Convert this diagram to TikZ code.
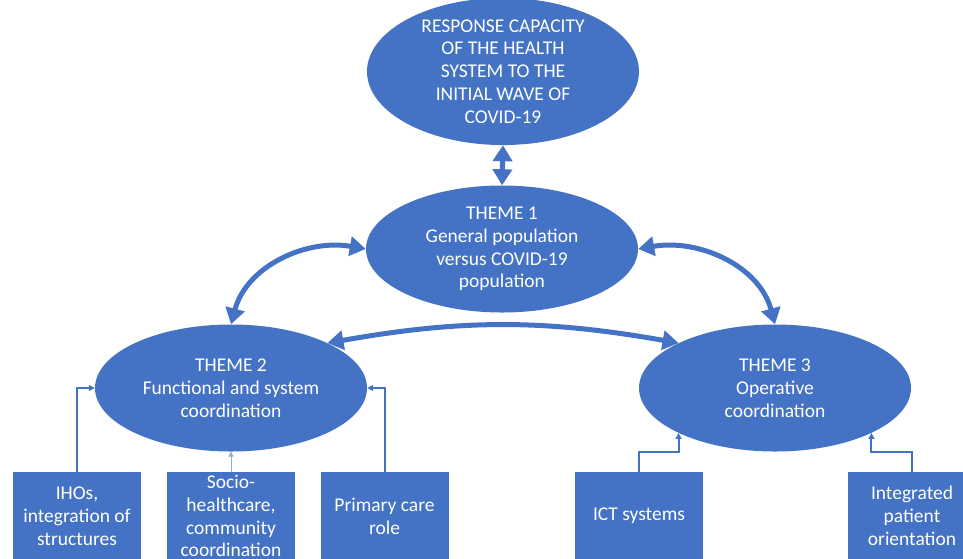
\documentclass[tikz,border=0pt]{standalone}
\usepackage{fontspec}
\setmainfont{Carlito}
\usetikzlibrary{shapes.geometric,arrows.meta}
\definecolor{ofblue}{HTML}{4472C4}
\definecolor{lightln}{HTML}{8FAADC}
\begin{document}
\begin{tikzpicture}[x=1pt,y=1pt,
 oval/.style={ellipse, fill=ofblue, minimum width=272pt, minimum height=127pt, inner sep=0pt, text=white, align=center, font=\fontsize{19.5}{22.8}\selectfont},
 card/.style={rectangle, fill=ofblue, minimum width=128pt, minimum height=88pt, inner sep=0pt, text=white, align=center, font=\fontsize{19.5}{22.8}\selectfont},
 bigarrow/.style={draw=ofblue, line width=5pt, {Triangle[length=16pt,width=19pt]}-{Triangle[length=16pt,width=19pt]}},
 conn/.style={draw=ofblue, line width=2pt, -{Triangle[length=6pt,width=6pt]}},
 thinconn/.style={draw=lightln, line width=1pt, -{Triangle[length=5pt,width=5pt]}}]
\useasboundingbox (0,0) rectangle (963,-558);
\fill[white] (0,0) rectangle (963,-558);
\clip (0,0) rectangle (963,-558);

\node[oval] (top) at (503,-71.5) {RESPONSE CAPACITY\\OF THE HEALTH\\SYSTEM TO THE\\INITIAL WAVE OF\\COVID-19};
\node[oval] (t1) at (502,-249) {THEME 1\\General population\\versus COVID-19\\population};
\node[oval] (t2) at (231,-388) {THEME 2\\Functional and system\\coordination};
\node[oval] (t3) at (775,-388) {THEME 3\\Operative\\coordination};

\node[card] (b1) at (77,-516) {IHOs,\\integration of\\structures};
\node[card] (b2) at (231,-516) {Socio-\\healthcare,\\community\\coordination};
\node[card] (b3) at (384.5,-516) {Primary care\\role};
\node[card] (b4) at (639,-516) {ICT systems};
\node[card] (b5) at (912,-516) {Integrated\\patient\\orientation};

\draw[bigarrow] (top.south) -- (t1.north);
\draw[bigarrow] (t1.west) to[out=170,in=75] (t2.north);
\draw[bigarrow] (t1.east) to[out=10,in=105] (t3.north);
\draw[bigarrow] (t2.25) to[bend left=10] (t3.155);

\draw[conn] (b1.north) |- (t2.west);
\draw[thinconn] (b2.north) -- (t2.south);
\draw[conn] (b3.north) |- (t2.east);
\draw[conn] (b4.north) -- ++(0,20) -| (t3.205);
\draw[conn] (b5.north) -- ++(0,20) -| (t3.335);
\end{tikzpicture}
\end{document}
